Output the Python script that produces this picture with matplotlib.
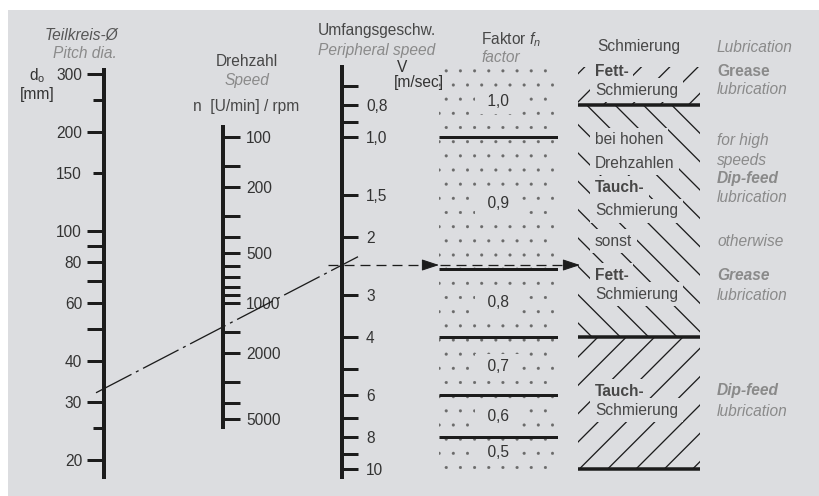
import numpy as np
import matplotlib
matplotlib.use("Agg")
import matplotlib.pyplot as plt
from matplotlib.patches import Rectangle, FancyArrowPatch

DPI = 85
W, H = 819, 496


def pt(px):
    """pixels -> points at the figure dpi"""
    return px * 72.0 / DPI


# --- values ---
d_ticks = [20, 25, 30, 40, 50, 60, 70, 80, 90, 100, 150, 200, 250, 300]
d_tick_labels = ["20", "", "30", "40", "", "60", "", "80", "", "100", "150", "200", "", "300"]
d_short = [25, 150, 250]

n_ticks = [100, 150, 200, 300, 400, 500, 600, 700, 800, 900, 1000, 1500, 2000, 3000, 4000, 5000]
n_tick_labels = ["100", "", "200", "", "", "500", "", "", "", "", "1000", "", "2000", "", "", "5000"]

v_ticks = [0.7, 0.8, 0.9, 1.0, 1.5, 2, 3, 4, 5, 6, 7, 8, 9, 10]
v_tick_labels = ["", "0,8", "", "1,0", "1,5", "2", "3", "4", "", "6", "", "8", "", "10"]

fn_edges = [1.0, 2.5, 4, 6, 8, 10]          # V limits of the factor bands
fn_values = ["1,0", "0,9", "0,8", "0,7", "0,6", "0,5"]

lub_edges = [0.8, 4, 10]                     # V limits of the lubrication zones
lub_hatch = ["/", "\\", "/"]

d_example = 33        # mm
v_example = 2.43      # m/sec

lub_de = ["Fett-", "Schmierung", "bei hohen", "Drehzahlen", "Tauch-", "Schmierung",
          "sonst", "Fett-", "Schmierung", "Tauch-", "Schmierung"]
lub_de_bold = [True, False, False, False, True, False, False, True, False, True, False]
lub_en = ["Grease", "lubrication", "for high", "speeds", "Dip-feed", "lubrication",
          "otherwise", "Grease", "lubrication", "Dip-feed", "lubrication"]
lub_en_bold = [True, False, False, False, True, False, False, True, False, True, False]

# --- style ---
BG = "#dcdde0"
INK = "#1c1c1c"
TXT = "#333333"
DE = "#474747"
EN = "#8a8a8a"
FS = pt(15.5)

plt.rcParams["font.family"] = "Liberation Sans"
plt.rcParams["mathtext.fontset"] = "custom"
plt.rcParams["mathtext.rm"] = "Liberation Sans"
plt.rcParams["mathtext.it"] = "Liberation Sans:italic"
plt.rcParams["lines.scale_dashes"] = False
plt.rcParams["hatch.linewidth"] = pt(1.3)

fig = plt.figure(figsize=(W / DPI, H / DPI), dpi=DPI, facecolor="white")


def px_rect(x0, y0, x1, y1):
    return [x0 / W, 1 - y1 / H, (x1 - x0) / W, (y1 - y0) / H]


def log_lims(v1, y1, v2, y2, ytop, ybot):
    k = (np.log10(v2) - np.log10(v1)) / (y2 - y1)
    at = lambda y: 10 ** (np.log10(v1) + (y - y1) * k)
    return at(ybot), at(ytop)


ax_bg = fig.add_axes([0, 0, 1, 1], zorder=-2)
ax_bg.set_xlim(0, W)
ax_bg.set_ylim(H, 0)
ax_bg.axis("off")
ax_bg.add_patch(Rectangle((8, 10), W - 8, H - 10, facecolor=BG, edgecolor="none"))


def scale_axis(x_line, ytop, ybot, lims, side):
    if side == "left":
        rect = px_rect(x_line, ytop, x_line + 30, ybot)
    else:
        rect = px_rect(x_line - 30, ytop, x_line, ybot)
    ax = fig.add_axes(rect)
    ax.set_yscale("log")
    ax.set_ylim(*lims)
    ax.set_xlim(0, 1)
    ax.patch.set_visible(False)
    ax.xaxis.set_visible(False)
    for s in ax.spines.values():
        s.set_visible(False)
    ax.spines[side].set_visible(True)
    ax.spines[side].set_linewidth(pt(4))
    ax.spines[side].set_color(INK)
    ax.yaxis.set_ticks_position(side)
    return ax


def set_ticks(ax, ticks, labels, short=(), long_len=17, short_len=11, pad=5):
    lab = dict(zip(ticks, labels))
    major = [t for t in ticks if t not in short]
    minor = [t for t in ticks if t in short]
    ax.set_yticks(major, [lab[t] for t in major])
    ax.set_yticks(minor, [lab[t] for t in minor], minor=True)
    ax.tick_params(axis="y", which="both", direction="out", width=pt(3), color=INK,
                   labelsize=FS, labelcolor=TXT)
    ax.tick_params(axis="y", which="major", length=pt(long_len), pad=pt(pad))
    ax.tick_params(axis="y", which="minor", length=pt(short_len),
                   pad=pt(pad + long_len - short_len))


# d: pitch diameter
ax_d = scale_axis(104, 70, 477, log_lims(300, 74, 20, 460, 70, 477), "left")
set_ticks(ax_d, d_ticks, d_tick_labels, short=d_short, pad=5)

# n: speed
ax_n = scale_axis(223, 127, 427, log_lims(100, 137, 5000, 419, 127, 427), "right")
set_ticks(ax_n, n_ticks, n_tick_labels, pad=6)

# V: peripheral speed
V_TOP, V_BOT = 67, 477
v_lims = log_lims(1.0, 137, 10, 469, V_TOP, V_BOT)
ax_v = scale_axis(342, V_TOP, V_BOT, v_lims, "right")
set_ticks(ax_v, v_ticks, v_tick_labels, long_len=16, pad=8)

# factor f_n column
ax_f = fig.add_axes(px_rect(439, V_TOP, 558, V_BOT))
ax_f.set_yscale("log")
ax_f.set_ylim(*v_lims)
ax_f.set_xlim(0, 1)
ax_f.axis("off")
with plt.rc_context({"hatch.linewidth": pt(0.2)}):
    ax_f.axhspan(v_lims[1], fn_edges[-1], facecolor="none", edgecolor="#6a6a6a",
                 hatch=".", lw=0)
ax_f.hlines(fn_edges[:-1], 0, 1, color=INK, lw=pt(3))
band_lo = [v_lims[1]] + fn_edges[:-1]
for lo, hi, s in zip(band_lo, fn_edges, fn_values):
    ax_f.text(0.5, np.sqrt(lo * hi), "  " + s + "  ", ha="center", va="center",
              fontsize=FS, color=TXT,
              bbox=dict(boxstyle="square,pad=0.3", fc=BG, ec="none"))

# lubrication column
ax_l = fig.add_axes(px_rect(578, V_TOP, 700, V_BOT))
ax_l.set_yscale("log")
ax_l.set_ylim(*v_lims)
ax_l.set_xlim(0, 1)
ax_l.axis("off")
zone_lo = [v_lims[1]] + lub_edges[:-1]
for lo, hi, h in zip(zone_lo, lub_edges, lub_hatch):
    ax_l.axhspan(lo, hi, facecolor="none", edgecolor=INK, hatch=h, lw=0)
ax_l.hlines(lub_edges, 0, 1, color=INK, lw=pt(3.5))

# overlay: texts, reading line, arrows
ax_top = fig.add_axes([0, 0, 1, 1], zorder=5)
ax_top.set_xlim(0, W)
ax_top.set_ylim(H, 0)
ax_top.axis("off")


def to_px(ax, x, y):
    dx, dy = ax.transData.transform((x, y))
    return dx, H - dy


xd, yd = to_px(ax_d, 0, d_example)
xv, yv = to_px(ax_v, 1, v_example)
k = (yv - yd) / (xv - xd)
xs = [xd - 8, xv + 16]
ax_top.plot(xs, [yd + k * (x - xd) for x in xs], color=INK, lw=pt(1.3),
            linestyle=(0, (pt(40), pt(5), pt(3), pt(5))))

x_f = to_px(ax_f, 0, 1)[0]
x_l = to_px(ax_l, 0, 1)[0]
ax_top.plot([xv - 14, x_l], [yv, yv], color=INK, lw=pt(1.3), linestyle=(0, (pt(10), pt(6))))
for tip in (x_f, x_l + 2):
    ax_top.add_patch(FancyArrowPatch((tip - 16, yv), (tip, yv),
                                     arrowstyle="-|>,head_length=1,head_width=0.33",
                                     mutation_scale=pt(15), shrinkA=0, shrinkB=0,
                                     color=INK, lw=pt(1)))


def label(x, y, s, ha="left", color=DE, style="normal", weight="normal", clear=False):
    kw = {}
    if clear:
        kw["bbox"] = dict(boxstyle="square,pad=0.3", fc=BG, ec="none")
    ax_top.text(x, y, s, ha=ha, va="center", fontsize=FS, color=color,
                style=style, weight=weight, **kw)


# headers
label(118, 35, "Teilkreis-Ø", ha="right", color="#555555", style="italic")
label(117, 54, "Pitch dia.", ha="right", color=EN, style="italic")
label(29, 76, r"d$_\mathrm{o}$", color=TXT)
label(20, 94, "[mm]", color=TXT)

label(247, 62, "Drehzahl", ha="center")
label(247, 81, "Speed", ha="center", color=EN, style="italic")
label(193, 107, "n  [U/min] / rpm")

label(377, 31, "Umfangsgeschw.", ha="center")
label(377, 50, "Peripheral speed", ha="center", color=EN, style="italic")
label(397, 68, "V", color=TXT)
label(394, 83, "[m/sec]", color=TXT)

label(481, 40, r"Faktor $f_n$")
label(481, 58, "factor", color=EN, style="italic")

label(639, 47, "Schmierung", ha="center")
label(717, 47, "Lubrication", color=EN, style="italic")

de_y = [71, 90, 140, 163, 188, 211, 241, 275, 294, 391, 410]
en_y = [71, 90, 140, 160, 179, 197, 241, 276, 296, 391, 411]
for s, b, y in zip(lub_de, lub_de_bold, de_y):
    label(595, y, s, weight="bold" if b else "normal", clear=True)
for i, (s, b, y) in enumerate(zip(lub_en, lub_en_bold, en_y)):
    label(717, y, s, color=EN, weight="bold" if b else "normal",
          style="normal" if i == 0 else "italic")

fig.savefig("out.png", dpi=DPI, facecolor=fig.get_facecolor())
